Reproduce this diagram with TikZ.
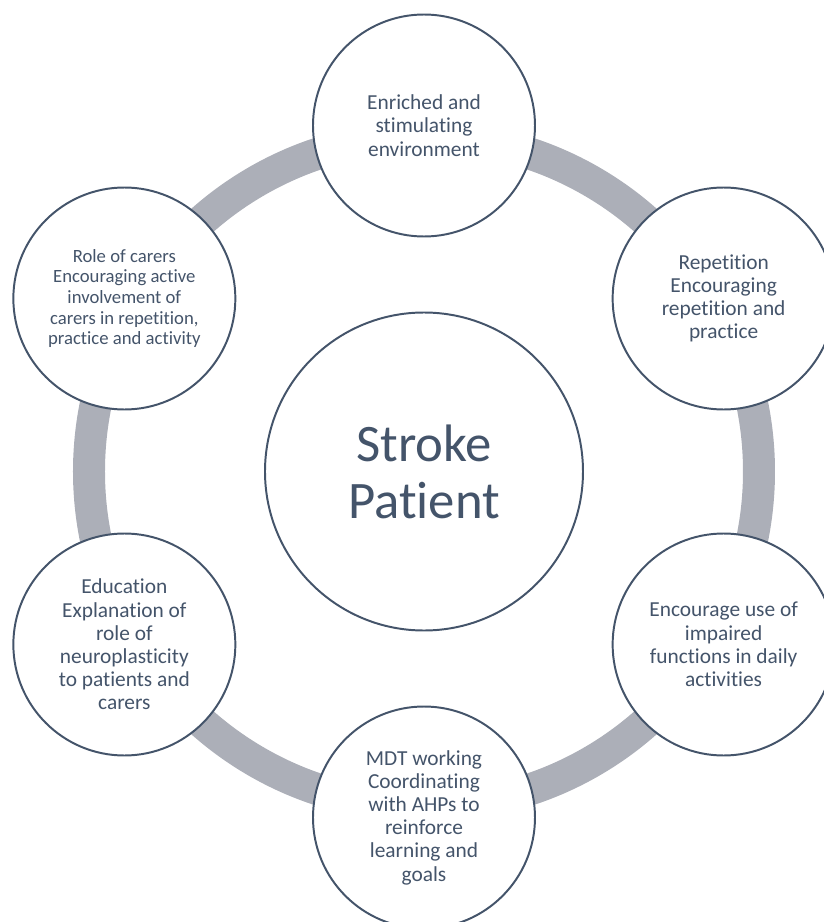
\documentclass[tikz,border=0pt]{standalone}
\usepackage{fontspec}
\setmainfont{Carlito}[Ligatures=NoCommon]
\definecolor{slate}{RGB}{68,84,106}
\definecolor{ringgray}{RGB}{172,175,184}

\begin{document}
\begin{tikzpicture}
    \tikzstyle{hub}=[circle,draw=slate,line width=1.4pt,fill=white,minimum size=7.95cm,inner sep=0pt,text=slate,align=center,font=\fontsize{37.5}{40.4}\selectfont]
    \tikzstyle{spoke}=[circle,draw=slate,line width=1.4pt,fill=white,minimum size=5.55cm,inner sep=0pt,text=slate,align=center,font=\fontsize{15.2}{16.5}\selectfont]
    \tikzstyle{ring}=[draw=ringgray,line width=0.8cm]
    \useasboundingbox (-10.6,-11.2625) rectangle (10.0,11.7875);
    \node[hub] (patient) at (0,0) {Stroke\\Patient};
    \draw[ring] (patient.center) circle (8.375cm);
    \node[spoke] (environment) at (90:8.65) {Enriched and\\stimulating\\environment};
    \node[spoke] (repetition) at (30:8.65) {Repetition\\Encouraging\\repetition and\\practice};
    \node[spoke] (functions) at (-30:8.65) {Encourage use of\\impaired\\functions in daily\\activities};
    \node[spoke] (mdt) at (-90:8.65) {MDT working\\Coordinating\\with AHPs to\\reinforce\\learning and\\goals};
    \node[spoke] (education) at (-150:8.65) {Education\\Explanation of\\role of\\neuroplasticity\\to patients and\\carers};
    \node[spoke,font=\fontsize{13.3}{14.7}\selectfont] (carers) at (150:8.65) {Role of carers\\Encouraging active\\involvement of\\carers in repetition,\\practice and activity};
\end{tikzpicture}
\end{document}
